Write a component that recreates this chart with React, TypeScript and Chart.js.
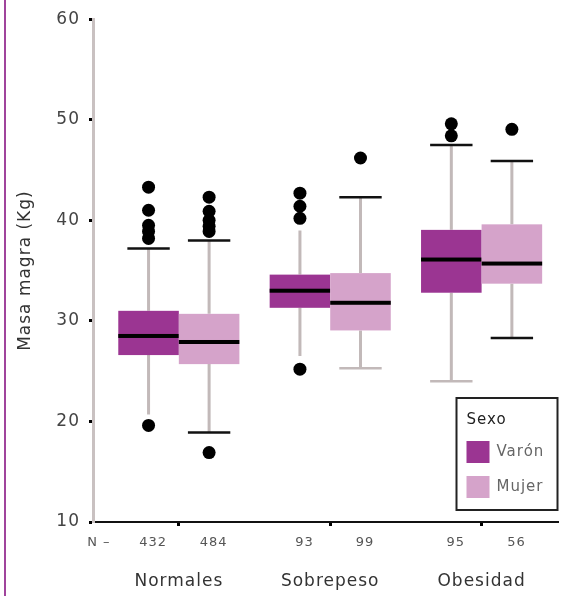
import React, { useEffect, useRef } from 'react';
import { Chart, registerables } from 'chart.js';

Chart.register(...registerables);

// ---------- data ----------
const groups = ['Normales', 'Sobrepeso', 'Obesidad'];
const sexes = ['Varón', 'Mujer'];
const nVaron = [432, 93, 95];
const nMujer = [484, 99, 56];
const nPrefix = 'N –';
const yAxisTitle = 'Masa magra (Kg)';
const legendTitle = 'Sexo';
const yTicks = [10, 20, 30, 40, 50, 60];

const varonLow = [20.7, 26.5, 24.0];
const varonQ1 = [26.6, 31.3, 32.8];
const varonMedian = [28.5, 33.0, 36.1];
const varonQ3 = [31.0, 34.6, 39.05];
const varonHigh = [37.2, 39.0, 47.5];
const varonOutliers = [
  [43.3, 41.0, 39.5, 38.9, 38.2, 19.6],
  [42.7, 41.4, 40.2, 25.2],
  [49.6, 48.4],
];

const mujerLow = [18.9, 25.3, 28.3];
const mujerQ1 = [25.7, 29.05, 33.7];
const mujerMedian = [27.9, 31.8, 35.7];
const mujerQ3 = [30.7, 34.75, 39.6];
const mujerHigh = [38.0, 42.3, 45.9];
const mujerOutliers = [[42.3, 40.9, 40.0, 39.4, 38.9, 16.9], [46.2], [49.05]];

// ---------- styles ----------
const FONT = "'DejaVu Sans', sans-serif";
const VARON_COLOR = '#9b3592';
const MUJER_COLOR = '#d5a3ca';
const WHISKER_COLOR = '#c2b9b9';
const CAP_BLACK = '#111111';
const CAP_GRAY = '#c2b9b9';
// cap style per group (null = no cap)
const varonCapHighStyle = [CAP_BLACK, null, CAP_BLACK];
const varonCapLowStyle = [null, null, CAP_GRAY];
const mujerCapHighStyle = [CAP_BLACK, CAP_BLACK, CAP_BLACK];
const mujerCapLowStyle = [CAP_BLACK, CAP_GRAY, CAP_BLACK];

const BOX_HALF = 0.2; // in x-units (group width = 1)
const CAP_HALF = 0.14;
const X_MIN = -0.067;
const X_MAX = 3.008;
const N_POS = -0.028;
const N_SHIFT = 0.03;

const series = [
  {
    label: sexes[0], color: VARON_COLOR, offset: -BOX_HALF,
    low: varonLow, q1: varonQ1, med: varonMedian, q3: varonQ3, high: varonHigh,
    out: varonOutliers, capHigh: varonCapHighStyle, capLow: varonCapLowStyle,
  },
  {
    label: sexes[1], color: MUJER_COLOR, offset: BOX_HALF,
    low: mujerLow, q1: mujerQ1, med: mujerMedian, q3: mujerQ3, high: mujerHigh,
    out: mujerOutliers, capHigh: mujerCapHighStyle, capLow: mujerCapLowStyle,
  },
];

const xTicks: { value: number; label: string; mark: boolean }[] = [
  { value: N_POS, label: nPrefix, mark: false },
];
groups.forEach((_, g) => {
  xTicks.push({ value: g + 0.5 - BOX_HALF + N_SHIFT, label: String(nVaron[g]), mark: false });
  xTicks.push({ value: g + 0.5, label: '', mark: true });
  xTicks.push({ value: g + 0.5 + BOX_HALF + N_SHIFT, label: String(nMujer[g]), mark: false });
});

const spacingPlugin = {
  id: 'spacing',
  beforeLayout(chart: any) {
    chart.ctx.letterSpacing = '1px';
  },
  beforeDraw(chart: any) {
    chart.ctx.letterSpacing = '1px';
  },
};

const boxPlugin = {
  id: 'boxes',
  beforeDatasetsDraw(chart: any) {
    const ctx = chart.ctx;
    const xs = chart.scales.x;
    const ys = chart.scales.y;
    ctx.save();
    series.forEach((s) => {
      groups.forEach((_, g) => {
        const c = g + 0.5 + s.offset;
        const cx = xs.getPixelForValue(c);
        const left = xs.getPixelForValue(c - BOX_HALF);
        const right = xs.getPixelForValue(c + BOX_HALF);
        const yLow = ys.getPixelForValue(s.low[g]);
        const yQ1 = ys.getPixelForValue(s.q1[g]);
        const yMed = ys.getPixelForValue(s.med[g]);
        const yQ3 = ys.getPixelForValue(s.q3[g]);
        const yHigh = ys.getPixelForValue(s.high[g]);
        // whiskers
        ctx.strokeStyle = WHISKER_COLOR;
        ctx.lineWidth = 3;
        ctx.beginPath();
        ctx.moveTo(cx, yQ3);
        ctx.lineTo(cx, yHigh);
        ctx.moveTo(cx, yQ1);
        ctx.lineTo(cx, yLow);
        ctx.stroke();
        // caps
        const capL = xs.getPixelForValue(c - CAP_HALF);
        const capR = xs.getPixelForValue(c + CAP_HALF);
        ctx.lineWidth = 2.5;
        if (s.capHigh[g]) {
          ctx.strokeStyle = s.capHigh[g];
          ctx.beginPath();
          ctx.moveTo(capL, yHigh);
          ctx.lineTo(capR, yHigh);
          ctx.stroke();
        }
        if (s.capLow[g]) {
          ctx.strokeStyle = s.capLow[g];
          ctx.beginPath();
          ctx.moveTo(capL, yLow);
          ctx.lineTo(capR, yLow);
          ctx.stroke();
        }
        // box
        ctx.fillStyle = s.color;
        ctx.fillRect(left, yQ3, right - left, yQ1 - yQ3);
        // median
        ctx.fillStyle = '#000';
        ctx.fillRect(left, yMed - 2, right - left, 4);
      });
    });
    ctx.restore();
  },
  afterDraw(chart: any) {
    const ctx = chart.ctx;
    const { right, bottom } = chart.chartArea;
    const bx = right - 102;
    const by = bottom - 124;
    const bw = 101;
    const bh = 112;
    ctx.save();
    ctx.fillStyle = '#fff';
    ctx.fillRect(bx, by, bw, bh);
    ctx.strokeStyle = '#222';
    ctx.lineWidth = 2;
    ctx.strokeRect(bx, by, bw, bh);
    ctx.letterSpacing = '1px';
    ctx.font = `15px ${FONT}`;
    ctx.textBaseline = 'middle';
    ctx.textAlign = 'left';
    ctx.fillStyle = '#222';
    ctx.fillText(legendTitle, bx + 10, by + 22);
    series.forEach((s, i) => {
      const sy = by + 43 + i * 35;
      ctx.fillStyle = s.color;
      ctx.fillRect(bx + 10, sy, 23, 22);
      ctx.fillStyle = '#666';
      ctx.fillText(s.label, bx + 40, sy + 11);
    });
    ctx.restore();
  },
};

export default function App() {
  const ref = useRef<HTMLCanvasElement | null>(null);

  useEffect(() => {
    if (!ref.current) return;
    Chart.defaults.font.family = FONT;
    const datasets = series.map((s) => ({
      label: s.label,
      data: s.out.flatMap((vals, g) => vals.map((v) => ({ x: g + 0.5 + s.offset, y: v }))),
      backgroundColor: '#000',
      borderColor: '#000',
      borderWidth: 0,
      pointRadius: 6.5,
      pointHoverRadius: 6.5,
    }));
    const chart = new Chart(ref.current, {
      type: 'scatter',
      data: { datasets },
      plugins: [spacingPlugin, boxPlugin],
      options: {
        animation: false,
        responsive: false,
        devicePixelRatio: 1,
        layout: { padding: { top: 17, right: 0, left: 0, bottom: 0 } },
        plugins: { legend: { display: false }, tooltip: { enabled: false } },
        scales: {
          x: {
            type: 'linear',
            position: 'bottom',
            weight: 0,
            min: X_MIN,
            max: X_MAX,
            afterBuildTicks: (s: any) => {
              s.ticks = xTicks.map((t) => ({ value: t.value }));
            },
            afterFit: (s: any) => {
              s.height = 34;
            },
            ticks: {
              autoSkip: false,
              maxRotation: 0,
              minRotation: 0,
              padding: 9,
              color: '#555',
              font: { size: 13, family: FONT },
              callback: (_v: any, i: number) => xTicks[i].label,
            },
            grid: {
              drawOnChartArea: false,
              tickLength: 4,
              tickWidth: 3,
              color: (c: any) => (c.index !== undefined && xTicks[c.index] && xTicks[c.index].mark ? '#000' : 'rgba(0,0,0,0)'),
              tickColor: (c: any) => (c.index !== undefined && xTicks[c.index] && xTicks[c.index].mark ? '#000' : 'rgba(0,0,0,0)'),
            },
            border: { display: true, color: '#111', width: 2 },
          },
          x2: {
            type: 'linear',
            position: 'bottom',
            weight: 1,
            min: X_MIN,
            max: X_MAX,
            afterBuildTicks: (s: any) => {
              s.ticks = groups.map((_, g) => ({ value: g + 0.5 }));
            },
            afterFit: (s: any) => {
              s.height = 40;
            },
            ticks: {
              autoSkip: false,
              maxRotation: 0,
              minRotation: 0,
              padding: 15,
              color: '#333',
              font: { size: 17, family: FONT },
              callback: (_v: any, i: number) => groups[i],
            },
            grid: { display: false, drawTicks: false },
            border: { display: false },
          },
          y: {
            type: 'linear',
            min: 10,
            max: 60,
            afterBuildTicks: (s: any) => {
              s.ticks = yTicks.map((v) => ({ value: v }));
            },
            afterFit: (s: any) => {
              s.width = 93;
            },
            ticks: {
              padding: 9,
              color: '#444',
              font: { size: 17, family: FONT },
            },
            grid: {
              drawOnChartArea: false,
              tickLength: 4,
              tickWidth: 3,
              color: '#000',
              tickColor: '#000',
            },
            border: { display: true, color: '#c9c1c1', width: 3 },
            title: {
              display: true,
              text: yAxisTitle,
              color: '#333',
              font: { size: 17, family: FONT },
              padding: { top: 15, bottom: 0 },
            },
          },
        },
      } as any,
    });
    return () => chart.destroy();
  }, []);

  return (
    <div style={{ position: 'absolute', left: 0, top: 0, width: 565, height: 596, background: '#fff', overflow: 'hidden' }}>
      <div style={{ position: 'absolute', left: 4, top: 0, width: 2, height: 596, background: '#a0449c' }} />
      <canvas ref={ref} width={565} height={596} style={{ position: 'absolute', left: 0, top: 0, width: 565, height: 596 }} />
    </div>
  );
}
